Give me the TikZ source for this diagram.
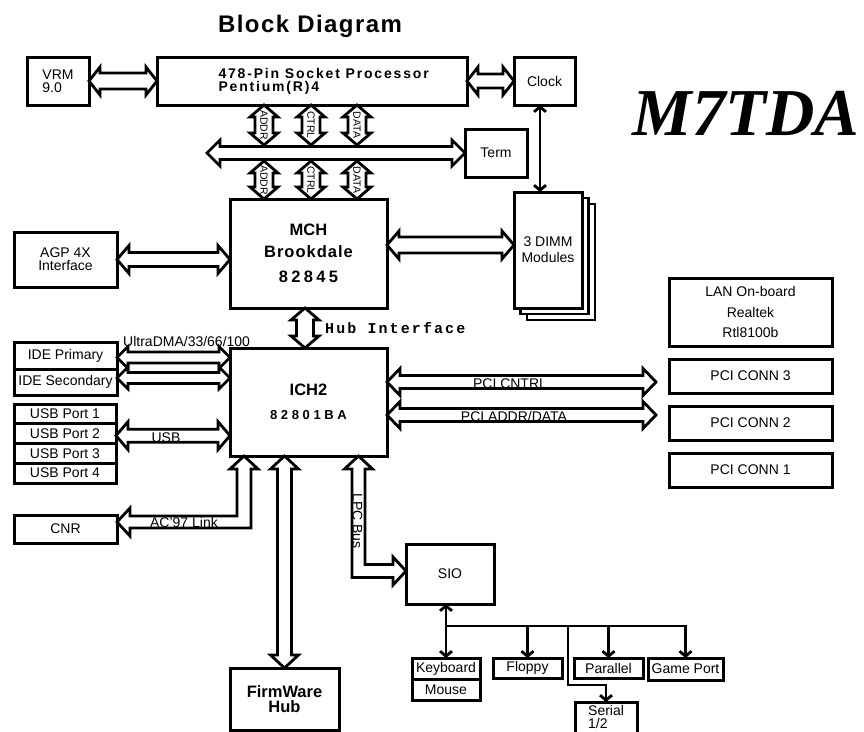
\documentclass[tikz,border=0pt]{standalone}
\usepackage{fontspec}
\setmainfont{Liberation Sans}
\newfontfamily\hubfont[LetterSpace=14]{Liberation Mono}
\newfontfamily\seriffam{Liberation Serif}
\usetikzlibrary{positioning,calc,arrows.meta,backgrounds}

% hollow bus arrow: from, to, half shaft, half head, head length
\newcommand{\fatarrow}[5]{%
  \draw[bus] (#1) -- ($(#1)!#5pt!(#2)!#4pt!90:(#2)$) -- ($(#1)!#5pt!(#2)!#3pt!90:(#2)$)
    -- ($(#2)!#5pt!(#1)!#3pt!-90:(#1)$) -- ($(#2)!#5pt!(#1)!#4pt!-90:(#1)$) -- (#2)
    -- ($(#2)!#5pt!(#1)!#4pt!90:(#1)$) -- ($(#2)!#5pt!(#1)!#3pt!90:(#1)$)
    -- ($(#1)!#5pt!(#2)!#3pt!-90:(#2)$) -- ($(#1)!#5pt!(#2)!#4pt!-90:(#2)$) -- cycle;}

\tikzset{
  box/.style={draw, line width=3pt, fill=white, inner sep=1pt, outer sep=0pt, align=center, font=\fontsize{14}{13}\selectfont},
  big/.style={font=\bfseries\fontsize{16.5}{22}\selectfont},
  bus/.style={draw, line width=2.8pt, fill=white, line join=miter},
  wire/.style={line width=2.8pt},
  lbl/.style={font=\fontsize{14}{15}\selectfont, inner sep=0pt},
  tinylbl/.style={font=\fontsize{10.5}{11}\selectfont, rotate=-90, inner sep=0pt}
}

\begin{document}
\begin{tikzpicture}[x=1pt, y=-1pt, >={Straight Barb[length=5pt,width=12pt]}]
\useasboundingbox (0,0) rectangle (864,731);

\node[font=\bfseries\fontsize{24}{26}\selectfont\addfontfeatures{LetterSpace=6}, anchor=base] (title) at (310,32) {Block Diagram};
\node[font=\seriffam\bfseries\itshape\fontsize{67}{70}\selectfont, anchor=base] (model) at (746,135) {M7TDA};

% processor row
\node[box, align=left, minimum width=62pt, minimum height=48pt] (vrm) at (58,81) {VRM\\9.0};
\node[box, minimum width=310pt, minimum height=48pt] (cpu) at (312,81) {};
\node[font=\bfseries\fontsize{14}{13}\selectfont\addfontfeatures{LetterSpace=13}, align=left, anchor=west] (cputext) at ($(cpu.west)+(58,0)$) {478-Pin Socket Processor\\Pentium(R)4};
\node[box, minimum width=61pt, minimum height=48pt] (clock) at (544.5,81) {Clock};
\node[box, minimum width=62pt, minimum height=48pt] (term) at (496,153) {Term};

% north bridge
\node[box, big, minimum width=157pt, minimum height=109pt] (mch) at (308.5,253.5) {MCH\\{\addfontfeatures{LetterSpace=6}Brookdale}\\[3pt]{\addfontfeatures{LetterSpace=20}82845}};
\node[box, minimum width=103pt, minimum height=55pt] (agp) at (65.5,259.5) {AGP 4X\\Interface};
\node[box, minimum width=68pt, minimum height=116pt, font=\fontsize{14}{16}\selectfont] (dimm) at (548,250) {3 DIMM\\Modules};
\begin{scope}[on background layer]
  \draw[line width=2.8pt, fill=white] ($(dimm.north west)+(13,12)$) rectangle ($(dimm.south east)+(13,12)$);
  \draw[line width=2.8pt, fill=white] ($(dimm.north west)+(6.5,6)$) rectangle ($(dimm.south east)+(6.5,6)$);
\end{scope}

% south bridge
\node[box, big, minimum width=157pt, minimum height=108pt] (ich) at (308.5,402) {ICH2\\[2pt]{\fontsize{13}{13}\selectfont\addfontfeatures{LetterSpace=28}82801BA}};
\node[box, minimum width=103pt, minimum height=27pt] (idep) at (65.5,355.5) {IDE Primary};
\node[box, minimum width=103pt, minimum height=26pt, below=0pt of idep] (ides) {IDE Secondary};
\node[box, minimum width=102pt, minimum height=19.75pt] (usba) at (65,413.9) {USB Port 1};
\node[box, minimum width=102pt, minimum height=19.75pt, below=0pt of usba] (usbb) {USB Port 2};
\node[box, minimum width=102pt, minimum height=19.75pt, below=0pt of usbb] (usbc) {USB Port 3};
\node[box, minimum width=102pt, minimum height=19.75pt, below=0pt of usbc] (usbd) {USB Port 4};
\node[box, minimum width=103pt, minimum height=28pt] (cnr) at (65.5,529) {CNR};
\node[box, minimum width=109pt, minimum height=62pt, font=\bfseries\fontsize{16.5}{15}\selectfont] (fwh) at (284.5,699) {FirmWare\\Hub};

% super i/o
\node[box, minimum width=88pt, minimum height=60pt] (sio) at (450,574) {SIO};
\node[box, minimum width=68pt, minimum height=21pt] (kbd) at (446,668.5) {Keyboard};
\node[box, minimum width=68pt, minimum height=21pt, below=0pt of kbd] (mouse) {Mouse};
\node[box, minimum width=69pt, minimum height=20pt] (floppy) at (527.5,668) {Floppy};
\node[box, minimum width=69pt, minimum height=20pt] (parallel) at (608.5,668) {Parallel};
\node[box, minimum width=75pt, minimum height=22pt] (game) at (685.5,669) {Game Port};
\node[box, minimum width=62pt, minimum height=44pt] (serial) at (606,724) {};
\node[lbl, align=left, anchor=north west, font=\fontsize{14}{13}\selectfont] (serialtext) at ($(serial.north west)+(13,3)$) {Serial\\1/2};

% pci side
\node[box, minimum width=163pt, minimum height=68pt, font=\fontsize{14}{20.5}\selectfont] (lan) at (750.5,312) {LAN On-board\\Realtek\\Rtl8100b};
\node[box, minimum width=163pt, minimum height=34pt, below=13pt of lan] (pci3) {PCI CONN 3};
\node[box, minimum width=163pt, minimum height=34pt, below=13pt of pci3] (pci2) {PCI CONN 2};
\node[box, minimum width=163pt, minimum height=34pt, below=13pt of pci2] (pci1) {PCI CONN 1};

% buses
\fatarrow{vrm.east}{cpu.west}{8}{14}{11}
\fatarrow{cpu.east}{clock.west}{7}{14}{11}
\coordinate (busL) at (207,153);
\fatarrow{busL}{term.west}{6.5}{13}{13}
\foreach \x/\t [count=\i] in {264/ADDR,311/CTRL,357/DATA}{
  \coordinate (up\i) at (cpu.south -| \x,0);
  \coordinate (bt\i) at ($(busL -| \x,0)+(0,-8)$);
  \coordinate (bb\i) at ($(busL -| \x,0)+(0,8)$);
  \coordinate (dn\i) at (mch.north -| \x,0);
  \fatarrow{up\i}{bt\i}{9}{14}{12}
  \fatarrow{bb\i}{dn\i}{9}{14}{12}
  \node[tinylbl] at ($(up\i)!.5!(bt\i)$) {\t};
  \node[tinylbl] at ($(bb\i)!.5!(dn\i)$) {\t};
}
\coordinate (agpM) at (mch.west |- agp.east);
\fatarrow{agp.east}{agpM}{7}{14}{12}
\coordinate (dimmL) at ($(dimm.west)+(0,-5)$);
\coordinate (dimmM) at (mch.east |- dimmL);
\fatarrow{dimmM}{dimmL}{8}{14}{12}
\coordinate (hubT) at (mch.south -| 305,0);
\coordinate (hubB) at (ich.north -| 305,0);
\fatarrow{hubT}{hubB}{8.5}{14}{12}
\node[font=\hubfont\bfseries\fontsize{15}{15}\selectfont, anchor=west, inner sep=0pt] (hublbl) at ($(hubT)!.5!(hubB)+(20,0)$) {Hub Interface};

\coordinate (ideA) at ($(idep.east)+(0,2)$);
\coordinate (ideAi) at (ich.west |- ideA);
\fatarrow{ideA}{ideAi}{5.5}{11}{11}
\coordinate (ideB) at ($(ides.east)+(0,-4)$);
\coordinate (ideBi) at (ich.west |- ideB);
\fatarrow{ideB}{ideBi}{5.5}{11}{11}
\node[lbl, anchor=base west] at ($(ideA)+(6,-11.5)$) {UltraDMA/33/66/100};

\coordinate (usbE) at ($(usbb.east)+(0,2)$);
\coordinate (usbI) at (ich.west |- usbE);
\fatarrow{usbE}{usbI}{6.5}{14}{12}
\node[lbl, anchor=base] at ($(usbE)+(50,7)$) {USB};

\coordinate (pciC) at ($(pci3.west)+(-13,6)$);
\coordinate (pciCi) at (ich.east |- pciC);
\fatarrow{pciCi}{pciC}{6.5}{13.5}{13}
\node[lbl, anchor=base] at ($(pciCi)+(123,6)$) {PCI CNTRL};
\coordinate (pciD) at ($(pci2.west)+(-13,-8)$);
\coordinate (pciDi) at (ich.east |- pciD);
\fatarrow{pciDi}{pciD}{6.5}{13.5}{13}
\node[lbl, anchor=base] at ($(pciDi)+(127,6)$) {PCI ADDR/DATA};

\coordinate (fwT) at (ich.south -| fwh.north);
\fatarrow{fwT}{fwh.north}{7}{14}{13}

% AC'97 link to CNR
\coordinate (acU) at ($(ich.south west)+(14,0)$);
\coordinate (acL) at ($(cnr.east)+(0,-7)$);
\draw[bus] (acU) -- ++(14,13) -- ++(-7,0) |- ($(acL)+(13,6)$) -- ++(0,8) -- (acL) -- ++(13,-14) -- ++(0,8) -| ($(acU)+(-7,13)$) -- ++(-7,0) -- cycle;
\node[lbl, anchor=base] at ($(acL)+(67,5.5)$) {AC'97 Link};

% LPC bus to SIO
\coordinate (lpcU) at ($(ich.south east)+(-28.5,0)$);
\coordinate (lpcR) at ($(sio.west)+(0,-3)$);
\draw[bus] (lpcU) -- ++(14,13) -- ++(-7.5,0) |- ($(lpcR)+(-13,-6.5)$) -- ++(0,-7.5) -- (lpcR) -- ++(-13,14) -- ++(0,-7.5) -| ($(lpcU)+(-6.5,13)$) -- ++(-7.5,0) -- cycle;
\node[lbl, rotate=-90, anchor=base] at ($(lpcU)+(-6,65)$) {LPC Bus};

% thin links
\coordinate (ck) at ($(clock.south)+(-4.5,0)$);
\draw[wire,<->] (ck) -- (ck |- dimm.north);
\draw[wire,<->] (sio.south -| kbd.north) -- (kbd.north);
\coordinate (fork) at ($(kbd.north)+(0,-32)$);
\draw[wire,->] (fork) -| (game.north);
\draw[wire,->] (fork -| floppy.north) -- (floppy.north);
\draw[wire,->] (fork -| parallel.north) -- (parallel.north);
\coordinate (sbend) at ($(serial.north)+(-38,-17)$);
\draw[wire,->] (fork -| sbend) -- (sbend) -| (serial.north);
\end{tikzpicture}
\end{document}
